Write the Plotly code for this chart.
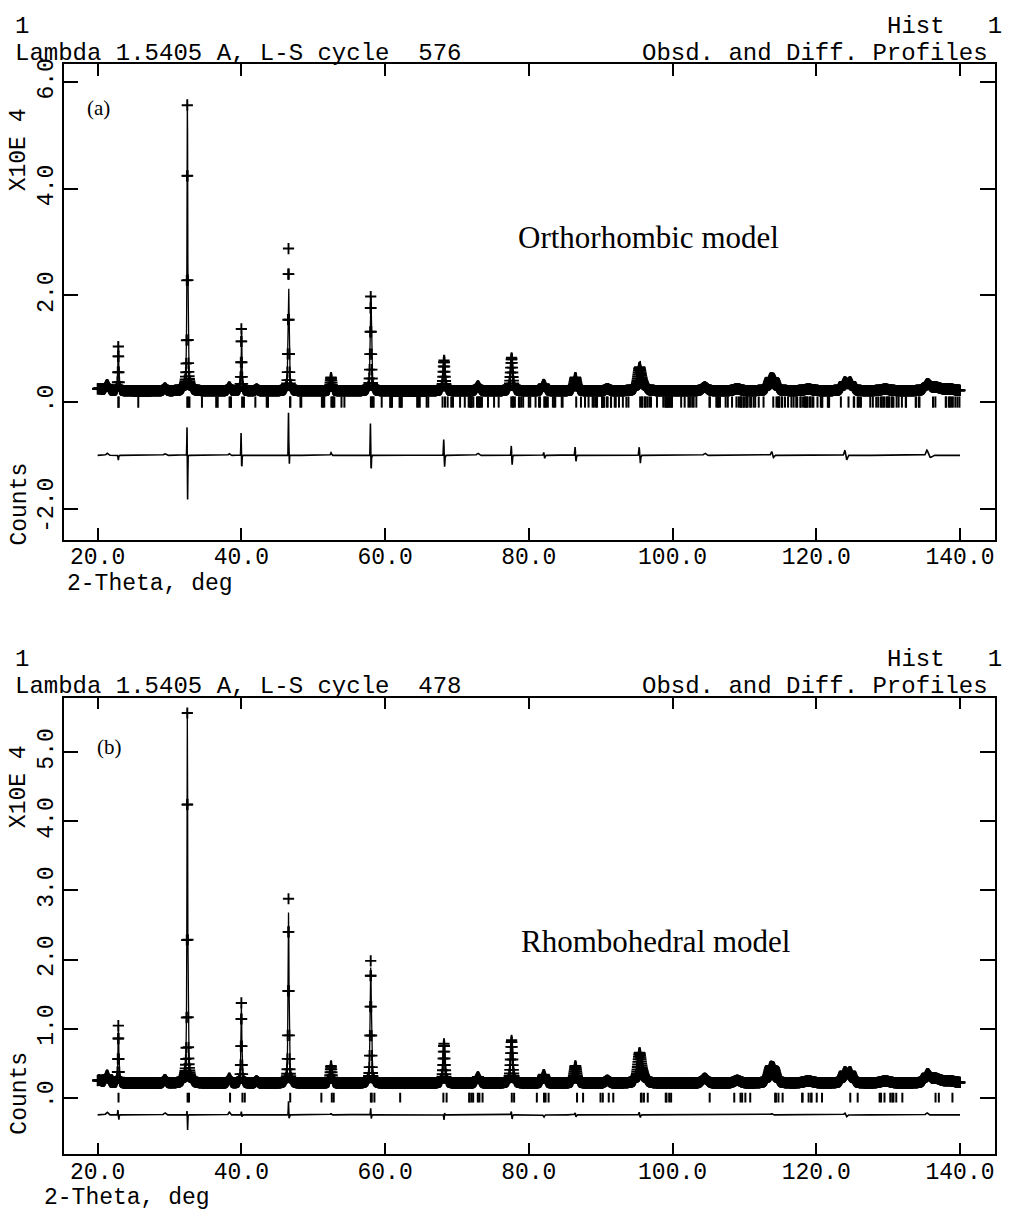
import numpy as np
import plotly.graph_objects as go

# ---------------------------------------------------------------
# Histogram 1, Cu K-alpha1 powder pattern (intensities in 10^4 counts)
# ---------------------------------------------------------------
WAVELENGTH = 1.5405
TTH_START, TTH_END, TTH_STEP = 20.0, 140.0, 0.04
BACKGROUND = 0.21

# Observed reflections: centre (deg), height above background, FWHM (deg)
PEAK_POS = [20.20, 21.32, 22.88, 29.36, 32.48, 32.50, 38.32, 40.00, 42.12,
            46.56, 52.48, 58.00, 68.20, 72.92, 77.60, 82.08, 86.48, 90.92,
            95.40, 95.90, 104.48, 109.00, 113.60, 114.12, 118.90, 123.96,
            124.72, 129.60, 135.48, 136.60, 138.50]
PEAK_HEIGHT = [0.04, 0.11, 0.83, 0.05, 5.24, 0.12, 0.07, 1.16, 0.03,
               2.67, 0.25, 1.77, 0.57, 0.09, 0.62, 0.12, 0.25, 0.04,
               0.41, 0.08, 0.07, 0.04, 0.19, 0.17, 0.03, 0.15,
               0.15, 0.03, 0.12, 0.06, 0.03]
PEAK_FWHM = [1.00, 0.50, 0.14, 0.40, 0.13, 0.80, 0.40, 0.15, 0.40,
             0.16, 0.30, 0.20, 0.30, 0.50, 0.35, 0.50, 0.45, 0.60,
             0.60, 0.80, 0.80, 1.00, 0.70, 0.70, 1.50, 0.70,
             0.70, 1.50, 0.80, 1.50, 2.00]
PEAK_ETA = 0.5

# Difference-curve features (obs - calc): centre, amplitude, width
RES_A_POS = [21.32, 22.88, 29.36, 32.44, 32.52, 38.32, 39.96, 40.06, 46.56,
             46.66, 52.48, 57.96, 58.06, 68.16, 68.28, 72.90, 77.56, 77.68,
             82.08, 82.20, 86.44, 86.56, 95.36, 95.50, 104.50, 113.80, 114.00,
             124.00, 124.20, 135.40, 135.90]
RES_A_AMP = [0.04, -0.09, 0.03, 0.54, -0.84, 0.03, 0.42, -0.26, 0.80,
             -0.20, 0.05, 0.60, -0.30, 0.30, -0.22, 0.04, 0.18, -0.18,
             0.06, -0.06, 0.16, -0.12, 0.16, -0.16, 0.04, 0.08, -0.05,
             0.10, -0.10, 0.10, -0.04]
RES_A_WID = [0.20, 0.06, 0.20, 0.04, 0.04, 0.15, 0.04, 0.04, 0.04,
             0.04, 0.10, 0.045, 0.045, 0.06, 0.06, 0.20, 0.06, 0.06,
             0.08, 0.08, 0.07, 0.07, 0.08, 0.08, 0.20, 0.15, 0.15,
             0.15, 0.15, 0.20, 0.30]
DIFF_A_OFFSET = -1.0

RES_B_POS = [21.32, 22.82, 22.94, 29.36, 32.44, 32.52, 38.32, 40.00, 40.08,
             46.56, 46.64, 52.48, 58.00, 58.08, 68.20, 68.28, 77.56, 77.68,
             82.10, 86.44, 86.56, 95.36, 95.50, 113.80, 124.00, 124.20, 135.40]
RES_B_AMP = [0.04, 0.07, -0.08, 0.03, 0.06, -0.22, 0.04, 0.05, -0.03,
             0.20, -0.05, 0.02, 0.10, -0.06, -0.08, 0.04, 0.05, -0.06,
             -0.03, 0.03, -0.03, 0.04, -0.04, 0.02, 0.03, -0.03, 0.03]
RES_B_WID = [0.20, 0.05, 0.05, 0.20, 0.04, 0.04, 0.15, 0.05, 0.05,
             0.04, 0.04, 0.10, 0.05, 0.05, 0.06, 0.06, 0.06, 0.06,
             0.10, 0.07, 0.07, 0.08, 0.08, 0.15, 0.15, 0.15, 0.20]
DIFF_B_OFFSET = -0.25

# Refined cells used for the reflection markers
ORTHO_CELL = (5.46, 5.51, 7.76)         # Pbnm: a, b, c (A)
RHOMB_CELL = (5.502, 13.36)             # R-3c hexagonal setting: a, c (A)

X_TICKS = [20, 40, 60, 80, 100, 120, 140]
X_TICK_TEXT = ["20.0", "40.0", "60.0", "80.0", "100.0", "120.0", "140.0"]
YA_TICKS = [-2, 0, 2, 4, 6]
YA_TICK_TEXT = ["-2.0", ".0", "2.0", "4.0", "6.0"]
YB_TICKS = [0, 1, 2, 3, 4, 5]
YB_TICK_TEXT = [".0", "1.0", "2.0", "3.0", "4.0", "5.0"]


# ---------------------------------------------------------------
tth = np.round(np.arange(TTH_START, TTH_END + TTH_STEP / 2, TTH_STEP), 3)


def pseudo_voigt(x, pos, height, fwhm, eta):
    u = (x - pos) / fwhm
    return height * (eta / (1 + 4 * u ** 2) + (1 - eta) * np.exp(-4 * np.log(2) * u ** 2))


obs = np.full_like(tth, BACKGROUND)
for p, h, w in zip(PEAK_POS, PEAK_HEIGHT, PEAK_FWHM):
    obs += pseudo_voigt(tth, p, h, w, PEAK_ETA)


def residual(x, pos, amp, wid):
    r = np.zeros_like(x)
    for p, a, s in zip(pos, amp, wid):
        r += a * np.exp(-((x - p) / s) ** 2)
    return r


res_a = residual(tth, RES_A_POS, RES_A_AMP, RES_A_WID)
res_b = residual(tth, RES_B_POS, RES_B_AMP, RES_B_WID)
calc_a = obs - res_a
calc_b = obs - res_b


def two_theta(inv_d2):
    s = WAVELENGTH * np.sqrt(inv_d2) / 2
    if s >= 1:
        return None
    t = 2 * np.degrees(np.arcsin(s))
    return t if TTH_START <= t <= TTH_END else None


def ortho_reflections(a, b, c):
    out = set()
    for h in range(0, 9):
        for k in range(0, 9):
            for l in range(0, 12):
                if h == k == l == 0:
                    continue
                if h == 0 and k % 2:
                    continue
                if k == 0 and (h + l) % 2:
                    continue
                t = two_theta(h * h / a ** 2 + k * k / b ** 2 + l * l / c ** 2)
                if t is not None:
                    out.add(round(t, 3))
    return sorted(out)


def rhomb_reflections(a, c):
    out = set()
    for h in range(-9, 10):
        for k in range(-9, 10):
            for l in range(0, 20):
                if h == k == l == 0:
                    continue
                if (-h + k + l) % 3:
                    continue
                if (h == 0 or k == 0 or h == -k) and l % 2:
                    continue
                t = two_theta(4 / 3 * (h * h + h * k + k * k) / a ** 2 + l * l / c ** 2)
                if t is not None:
                    out.add(round(t, 3))
    return sorted(out)


ticks_a = ortho_reflections(*ORTHO_CELL)
ticks_b = rhomb_reflections(*RHOMB_CELL)

# ---------------------------------------------------------------
W, H = 1012, 1227
MONO = "Liberation Mono, Courier New, monospace"
SERIF = "Liberation Serif, Times New Roman, serif"


def px(x):
    return x / W


def py(y):
    return 1 - y / H


fig = go.Figure()


def add_panel(xaxis, yaxis, calc, diff, ticks, tick_size):
    fig.add_trace(go.Scatter(x=tth, y=obs, mode="markers", xaxis=xaxis, yaxis=yaxis,
                             marker=dict(symbol="cross-thin-open", size=8, color="black",
                                         line=dict(color="black", width=1.9)),
                             hoverinfo="skip"))
    fig.add_trace(go.Scatter(x=tth, y=calc, mode="lines", xaxis=xaxis, yaxis=yaxis,
                             line=dict(color="black", width=1.3), hoverinfo="skip"))
    fig.add_trace(go.Scatter(x=tth, y=diff, mode="lines", xaxis=xaxis, yaxis=yaxis,
                             line=dict(color="black", width=1.6), hoverinfo="skip"))
    fig.add_trace(go.Scatter(x=ticks, y=[0] * len(ticks), mode="markers", xaxis=xaxis, yaxis=yaxis,
                             marker=dict(symbol="line-ns", size=tick_size, color="black",
                                         line=dict(color="black", width=2)),
                             hoverinfo="skip"))


add_panel("x", "y", calc_a, res_a + DIFF_A_OFFSET, ticks_a, 8)
add_panel("x2", "y2", calc_b, res_b + DIFF_B_OFFSET, ticks_b, 7)

x_dom = [px(63.5), px(995)]
x_range = [15.25, 144.87]

xcommon = dict(range=x_range, domain=x_dom, tickvals=X_TICKS, ticktext=X_TICK_TEXT,
               ticks="inside", ticklen=12, tickwidth=1.5, tickcolor="black",
               showline=True, linecolor="black", linewidth=1.6, mirror="allticks",
               showgrid=False, zeroline=False, ticklabelstandoff=-5,
               tickfont=dict(family=MONO, size=23, color="black"))
ycommon = dict(ticks="inside", ticklen=15, tickwidth=1.5, tickcolor="black",
               showline=True, linecolor="black", linewidth=1.6, mirror="allticks",
               showgrid=False, zeroline=False, tickangle=-90,
               tickfont=dict(family=MONO, size=23, color="black"))

fig.update_layout(
    width=W, height=H, margin=dict(l=0, r=0, t=0, b=0),
    paper_bgcolor="white", plot_bgcolor="white", showlegend=False,
    xaxis=dict(**xcommon, anchor="y"),
    yaxis=dict(**ycommon, range=[-2.59, 6.343], domain=[py(536.7), py(58.3)],
               tickvals=YA_TICKS, ticktext=YA_TICK_TEXT, anchor="x"),
    xaxis2=dict(**xcommon, anchor="y2"),
    yaxis2=dict(**ycommon, range=[-0.821, 5.793], domain=[py(1154), py(695)],
                tickvals=YB_TICKS, ticktext=YB_TICK_TEXT, anchor="x2"),
)


def note(text, x, y, xanchor="center", size=24, family=MONO, angle=0):
    fig.add_annotation(text=text, x=px(x), y=py(y), xref="paper", yref="paper",
                       xanchor=xanchor, yanchor="middle", showarrow=False, textangle=angle,
                       font=dict(family=family, size=size, color="black"))


NB = "\u00a0"
for top, cycle, tag, model, tag_xy, model_xy, xlab_y, ylab_top, ylab_bot, xt_left in [
    (58.3, "576", "(a)", "Orthorhombic model", (98, 102), (648, 233), 581, 145, 501, 65),
    (695, "478", "(b)", "Rhombohedral model", (109, 745), (655, 940), 1198, 785, 1093, 42),
]:
    note("1", 12.7, top - 38, xanchor="left")
    note("Lambda 1.5405 A, L-S cycle" + NB * 2 + cycle, 12.7, top - 11, xanchor="left")
    note("Hist" + NB * 3 + "1", 1004, top - 38, xanchor="right")
    note("Obsd. and Diff. Profiles", 990, top - 11, xanchor="right")
    note("X10E" + NB + "4", 19, ylab_top, angle=-90, size=23)
    note("Counts", 20, ylab_bot, angle=-90, size=23)
    note("2-Theta, deg", xt_left, xlab_y, xanchor="left", size=23)
    note(tag, tag_xy[0], tag_xy[1], family=SERIF, size=21)
    note(model, model_xy[0], model_xy[1], family=SERIF, size=31)

fig.write_html("out.html")
